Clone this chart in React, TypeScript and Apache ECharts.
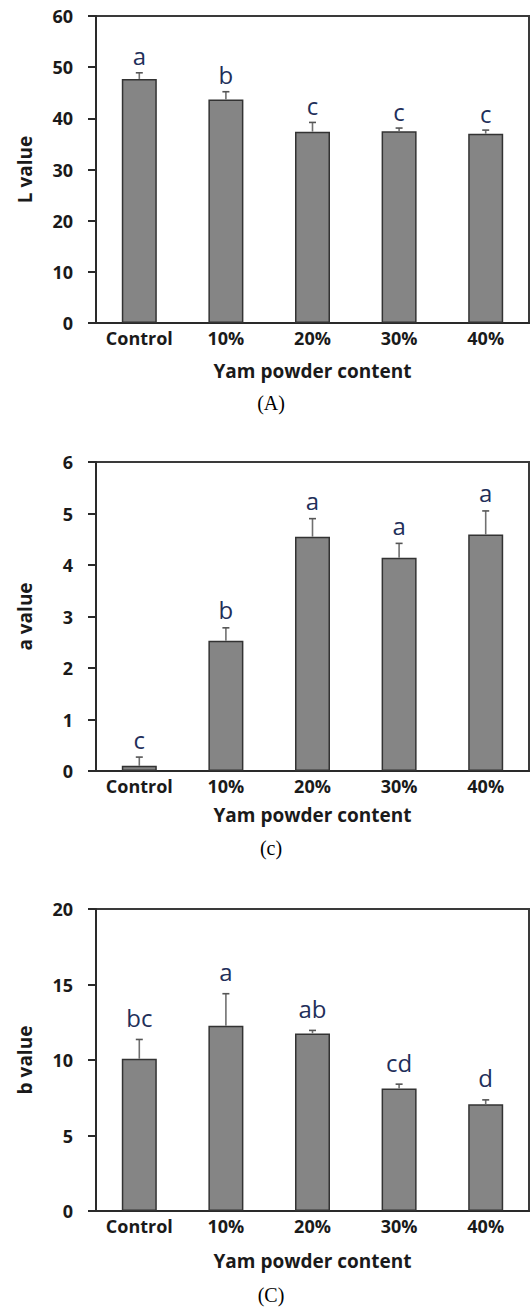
import React, { useEffect, useRef } from "react";
import * as echarts from "echarts";

const categories = ["Control", "10%", "20%", "30%", "40%"];

const lMeans = [47.7, 43.7, 37.4, 37.5, 37.0];
const lErrTop = [48.9, 45.2, 39.2, 38.1, 37.7];
const lLetters = ["a", "b", "c", "c", "c"];

const aMeans = [0.1, 2.53, 4.55, 4.14, 4.59];
const aErrTop = [0.27, 2.78, 4.9, 4.42, 5.05];
const aLetters = ["c", "b", "a", "a", "a"];

const bMeans = [10.08, 12.27, 11.76, 8.11, 7.07];
const bErrTop = [11.36, 14.39, 11.96, 8.4, 7.36];
const bLetters = ["bc", "a", "ab", "cd", "d"];

const yTitles = ["L value", "a value", "b value"];
const yMax = [60, 6, 20];
const yInterval = [10, 1, 5];
const xTitle = "Yam powder content";
const captions = ["(A)", "(c)", "(C)"];

const SANS = "'Open Sans', 'Noto Sans', sans-serif";

export default function App() {
  const ref = useRef<HTMLDivElement>(null);

  useEffect(() => {
    document.body.style.margin = "0";
    if (!ref.current) return;
    const chart = echarts.init(ref.current, undefined, { renderer: "svg" });

    const panels = [
      { top: 16, height: 307, means: lMeans, tops: lErrTop, letters: lLetters, off: 17, titleGap: 38, caption: 403 },
      { top: 462, height: 309, means: aMeans, tops: aErrTop, letters: aLetters, off: 18, titleGap: 34, caption: 848 },
      { top: 909, height: 302, means: bMeans, tops: bErrTop, letters: bLetters, off: 22, titleGap: 40, caption: 1295 },
    ];

    const grid: any[] = [];
    const xAxis: any[] = [];
    const yAxis: any[] = [];
    const series: any[] = [];
    const graphic: any[] = [];

    panels.forEach((p, k) => {
      grid.push({
        left: 96,
        width: 433,
        top: p.top,
        height: p.height,
        show: true,
        borderColor: "#3a3a3a",
        borderWidth: 2,
        backgroundColor: "transparent",
      });
      xAxis.push({
        type: "category",
        gridIndex: k,
        data: categories,
        axisLine: { show: true, lineStyle: { color: "#2a2a2a", width: 2 } },
        axisTick: { show: false },
        axisLabel: {
          interval: 0,
          margin: 6,
          fontFamily: SANS,
          fontWeight: "bold",
          fontSize: 18,
          color: "#1a1a1a",
        },
        name: xTitle,
        nameLocation: "middle",
        nameGap: p.titleGap,
        nameTextStyle: { fontFamily: SANS, fontWeight: "bold", fontSize: 19, color: "#1a1a1a" },
      });
      yAxis.push({
        type: "value",
        gridIndex: k,
        min: 0,
        max: yMax[k],
        interval: yInterval[k],
        axisLine: { show: true, lineStyle: { color: "#2a2a2a", width: 2 } },
        axisTick: { show: true, length: 8, lineStyle: { color: "#2a2a2a", width: 2 } },
        splitLine: { show: false },
        axisLabel: {
          margin: 23,
          fontFamily: SANS,
          fontWeight: "bold",
          fontSize: 18,
          color: "#1a1a1a",
        },
        name: yTitles[k],
        nameLocation: "middle",
        nameRotate: 90,
        nameGap: 62,
        nameTextStyle: { fontFamily: SANS, fontWeight: "bold", fontSize: 19, color: "#1a1a1a" },
      });
      series.push({
        type: "bar",
        xAxisIndex: k,
        yAxisIndex: k,
        data: p.means,
        barWidth: 35,
        itemStyle: { color: "#858585", borderColor: "#333333", borderWidth: 1.5 },
        z: 2,
      });
      const letters = p.letters;
      const off = p.off;
      series.push({
        type: "custom",
        xAxisIndex: k,
        yAxisIndex: k,
        data: p.means.map((m, i) => [i, m, p.tops[i]]),
        encode: { x: 0, y: 2 },
        z: 3,
        renderItem: (params: any, api: any) => {
          const i = api.value(0);
          const p0 = api.coord([i, api.value(1)]);
          const p1 = api.coord([i, api.value(2)]);
          return {
            type: "group",
            children: [
              {
                type: "line",
                shape: { x1: p0[0], y1: p0[1], x2: p1[0], y2: p1[1] },
                style: { stroke: "#707070", lineWidth: 1.6 },
              },
              {
                type: "line",
                shape: { x1: p1[0] - 3.5, y1: p1[1], x2: p1[0] + 3.5, y2: p1[1] },
                style: { stroke: "#555555", lineWidth: 1.6 },
              },
              {
                type: "text",
                x: p1[0],
                y: p1[1] - off,
                style: {
                  text: letters[params.dataIndex],
                  fontFamily: SANS,
                  fontSize: 24,
                  fill: "#1f2f5a",
                  align: "center",
                  verticalAlign: "middle",
                },
              },
            ],
          };
        },
      });
      graphic.push({
        type: "text",
        x: 271,
        y: p.caption,
        style: {
          text: captions[k],
          fontFamily: "'Liberation Serif', 'Times New Roman', serif",
          fontSize: 20,
          fill: "#000000",
          align: "center",
          verticalAlign: "middle",
        },
      });
    });

    chart.setOption({
      animation: false,
      backgroundColor: "#ffffff",
      grid,
      xAxis,
      yAxis,
      series,
      graphic,
    });

    return () => chart.dispose();
  }, []);

  return <div ref={ref} style={{ width: 530, height: 1308 }} />;
}
